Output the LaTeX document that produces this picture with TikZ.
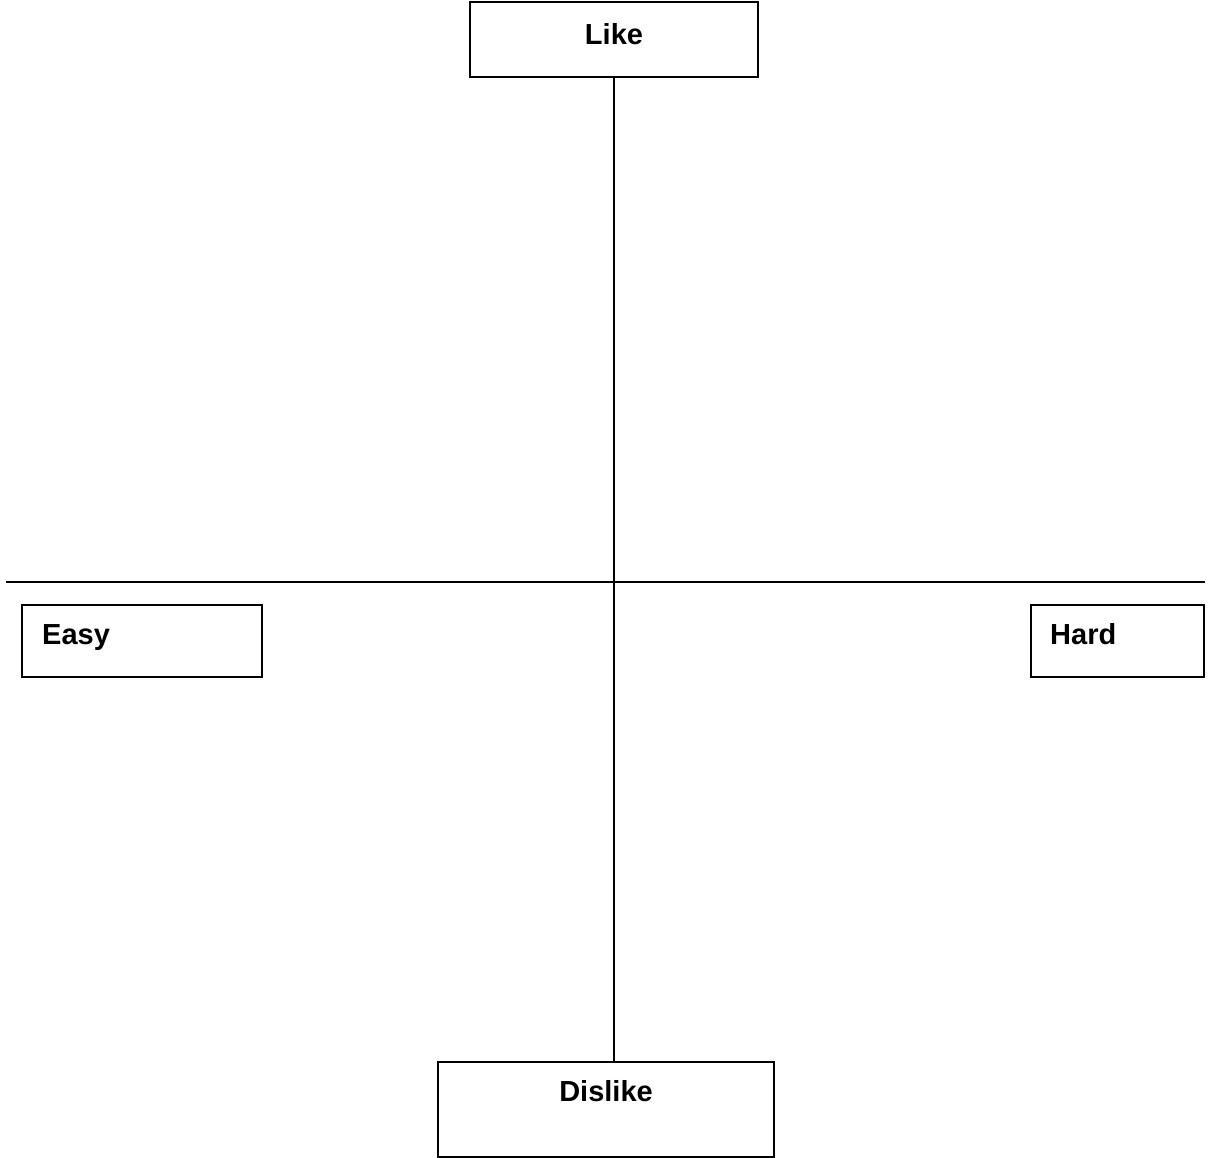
\documentclass[tikz,border=0pt]{standalone}
\usepackage{fontspec}
\setmainfont{Liberation Sans}
\begin{document}
\begin{tikzpicture}[x=1pt,y=-1pt,
  box/.style={draw,line width=2pt,rectangle,inner sep=0pt,minimum width=#1},
  lbl/.style={font=\fontsize{29}{33}\selectfont\bfseries,inner sep=0pt,anchor=base},
  lbll/.style={font=\fontsize{29}{33}\selectfont\bfseries,inner sep=0pt,anchor=base west},
  axis/.style={line width=2pt}]
\useasboundingbox (0,0) rectangle (1209,1158);
% boxes
\node[box=288pt,minimum height=75pt] (like) at (614,39.5) {};
\node[box=240pt,minimum height=72pt] (easy) at (142,641) {};
\node[box=173pt,minimum height=72pt] (hard) at (1117.5,641) {};
\node[box=336pt,minimum height=95pt] (dislike) at (606,1109.5) {};
% texts
\node[lbl] (liket) at (614,45) {Like};
\node[lbll] (easyt) at (42,644) {Easy};
\node[lbll] (hardt) at (1050,644) {Hard};
\node[lbl] (dislt) at (606,1101) {Dislike};
% axes
\coordinate (hl) at (6,582);
\coordinate (hr) at (1205,582);
\draw[axis] (like.south) -- (like.south |- dislike.north);
\draw[axis] (hl) -- (hr);
\end{tikzpicture}
\end{document}
